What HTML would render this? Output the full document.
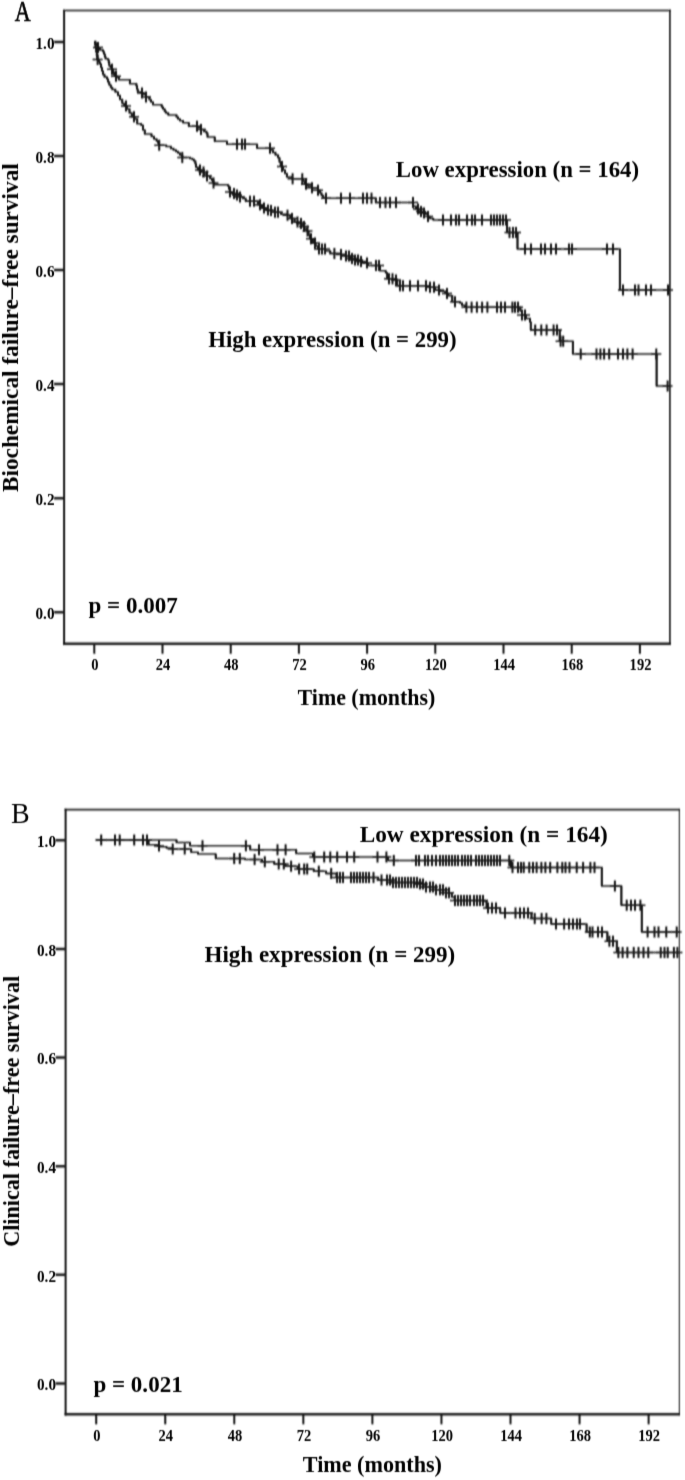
<!DOCTYPE html>
<html><head><meta charset="utf-8"><style>
html,body{margin:0;padding:0;background:#fff;}
body{width:685px;height:1480px;overflow:hidden;}
svg{display:block;filter:grayscale(1);}
text{font-family:"Liberation Serif",serif;fill:#000;}
.tk{font-size:16.5px;font-weight:bold;}
.pl{font-size:28px;font-weight:normal;}
.an{font-size:22.6px;font-weight:bold;}
.ax{font-size:21.9px;font-weight:bold;}
</style></head><body>
<svg width="685" height="1480" viewBox="0 0 685 1480">
<defs><filter id="bl" x="0" y="0" width="685" height="1480" filterUnits="userSpaceOnUse"><feConvolveMatrix order="3 5" kernelMatrix="0.0063 0.0251 0.0063 0.0399 0.1601 0.0399 0.0740 0.2968 0.0740 0.0399 0.1601 0.0399 0.0063 0.0251 0.0063" divisor="1" edgeMode="none"/></filter>
<filter id="bt" x="0" y="0" width="685" height="1480" filterUnits="userSpaceOnUse"><feConvolveMatrix order="3 3" kernelMatrix="0.0120 0.1423 0.0120 0.0483 0.5706 0.0483 0.0120 0.1423 0.0120" divisor="1" edgeMode="none"/></filter></defs>
<g filter="url(#bl)">
<path d="M63.1 10.5H670.7" stroke="#141414" stroke-width="1.5" fill="none"/>
<path d="M63.1 643.8H670.7" stroke="#141414" stroke-width="2.5" fill="none"/>
<path d="M64.1 9.75V645.05" stroke="#141414" stroke-width="2.0" fill="none"/>
<path d="M669.9 9.75V645.05" stroke="#141414" stroke-width="1.6" fill="none"/>
<path d="M54.1 612.2H64.1M54.1 498.16H64.1M54.1 384.12H64.1M54.1 270.08H64.1M54.1 156.04H64.1M54.1 42H64.1" stroke="#141414" stroke-width="2.5" fill="none"/>
<path d="M94.3 643.8V653.8M162.5 643.8V653.8M230.7 643.8V653.8M298.9 643.8V653.8M367.1 643.8V653.8M435.3 643.8V653.8M503.5 643.8V653.8M571.7 643.8V653.8M639.9 643.8V653.8" stroke="#141414" stroke-width="2.0" fill="none"/>
<path d="M64.6 809.7H679.8" stroke="#141414" stroke-width="1.8" fill="none"/>
<path d="M64.6 1414.2H679.8" stroke="#141414" stroke-width="2.6" fill="none"/>
<path d="M65.6 808.8V1415.5" stroke="#141414" stroke-width="2.0" fill="none"/>
<path d="M679.3 808.8V1415.5" stroke="#141414" stroke-width="1.0" fill="none"/>
<path d="M55.6 1383.5H65.6M55.6 1274.86H65.6M55.6 1166.22H65.6M55.6 1057.58H65.6M55.6 948.94H65.6M55.6 840.3H65.6" stroke="#141414" stroke-width="2.5" fill="none"/>
<path d="M96.2 1414.2V1424.2M165.25 1414.2V1424.2M234.3 1414.2V1424.2M303.35 1414.2V1424.2M372.4 1414.2V1424.2M441.45 1414.2V1424.2M510.5 1414.2V1424.2M579.55 1414.2V1424.2M648.6 1414.2V1424.2" stroke="#141414" stroke-width="2.0" fill="none"/>
<path d="M94.4 41.5H95.5V43.5H96.5V45.5H98V47.5H99.6V50H103.1V51.8H104V54H104.8V56.5H105.5V58.8H108V59.8H108.7V62.5H109.3V65.8H110.6V67.5H111.9V69.3H113V72H114V74.5H115V76.3H117V77.5H118.9V79.8H129.9V83.7H136.4V86H137V89H137.7V92H141V93H143.3V94.6H146V97H149.4V99.7H151V102H153V104.8H161.7V107H163V109H164.7V111.5H166V113H168.3V115H176.5V117H178V119H180V120.7H183.1V122.7H188.8V126.3H197.4V127.8H201V129.5H204V131.5H206.5V133.3H207.5V137H214.7V141.3H227V144.2H257.1V148.2H270.2V150H272.9V152.6H275.5V155H278.1V157.8H279.5V162H280.7V166.6H283V170H285V173.5H286.9V177.1H292.1V178.8H303V181H304.9V184.2H308V186H311.9V187.7H318V190.3H320V193H321.5V195.5H323.3V198.2H375.8V202.6H413.1V206.3H416V209H418.4V211.5H422V213H425.4V214.2H428V216.5H429.8V218.5H433.3V220H507V232.4H517.5V249H619.9V290H669" stroke="#141414" stroke-width="1.5" fill="none" stroke-linejoin="miter"/>
<path d="M95.5 41.5V43.5M96.5 43.5V45.5M98 45.5V47.5M99.6 47.5V50M103.1 50V51.8M104 51.8V54M104.8 54V56.5M105.5 56.5V58.8M108 58.8V59.8M108.7 59.8V62.5M109.3 62.5V65.8M110.6 65.8V67.5M111.9 67.5V69.3M113 69.3V72M114 72V74.5M115 74.5V76.3M117 76.3V77.5M118.9 77.5V79.8M129.9 79.8V83.7M136.4 83.7V86M137 86V89M137.7 89V92M141 92V93M143.3 93V94.6M146 94.6V97M149.4 97V99.7M151 99.7V102M153 102V104.8M161.7 104.8V107M163 107V109M164.7 109V111.5M166 111.5V113M168.3 113V115M176.5 115V117M178 117V119M180 119V120.7M183.1 120.7V122.7M188.8 122.7V126.3M197.4 126.3V127.8M201 127.8V129.5M204 129.5V131.5M206.5 131.5V133.3M207.5 133.3V137M214.7 137V141.3M227 141.3V144.2M257.1 144.2V148.2M270.2 148.2V150M272.9 150V152.6M275.5 152.6V155M278.1 155V157.8M279.5 157.8V162M280.7 162V166.6M283 166.6V170M285 170V173.5M286.9 173.5V177.1M292.1 177.1V178.8M303 178.8V181M304.9 181V184.2M308 184.2V186M311.9 186V187.7M318 187.7V190.3M320 190.3V193M321.5 193V195.5M323.3 195.5V198.2M375.8 198.2V202.6M413.1 202.6V206.3M416 206.3V209M418.4 209V211.5M422 211.5V213M425.4 213V214.2M428 214.2V216.5M429.8 216.5V218.5M433.3 218.5V220M507 220V232.4M517.5 232.4V249M619.9 249V290" stroke="#141414" stroke-width="2.0" fill="none"/>
<path d="M93 47.5h10M107 69.3h10M111 76.3h10M137 93h10M141 97h10M192 126.3h10M196 129.5h10M232 144.2h10M237 144.2h10M240 144.2h10M265 148.2h10M277 166.6h10M287.6 178.8h10M297.3 178.8h10M301 184.2h10M307 187.7h10M313 190.3h10M321 198.2h10M336 198.2h10M345 198.2h10M358 198.2h10M362 198.2h10M366.5 198.2h10M375 202.6h10M380.5 202.6h10M385 202.6h10M391 202.6h10M408 202.6h10M413 209h10M416 211.5h10M419 213h10M423 216.5h10M438 220h10M446 220h10M451 220h10M454 220h10M462 220h10M467 220h10M470 220h10M477 220h10M486 220h10M489 220h10M492 220h10M495 220h10M498 220h10M501 220h10M504.5 232.4h10M508 232.4h10M511 232.4h10M520 249h10M526 249h10M536 249h10M540 249h10M546 249h10M551 249h10M564 249h10M567 249h10M602 249h10M608 249h10M618 290h10M630 290h10M633.5 290h10M641 290h10M646 290h10M663 290h10" stroke="#141414" stroke-width="1.5" fill="none"/>
<path d="M98 42v11M112 63.8v11M116 70.8v11M142 87.5v11M146 91.5v11M197 120.8v11M201 124v11M237 138.7v11M242 138.7v11M245 138.7v11M270 142.7v11M282 161.1v11M292.6 173.3v11M302.3 173.3v11M306 178.7v11M312 182.2v11M318 184.8v11M326 192.7v11M341 192.7v11M350 192.7v11M363 192.7v11M367 192.7v11M371.5 192.7v11M380 197.1v11M385.5 197.1v11M390 197.1v11M396 197.1v11M413 197.1v11M418 203.5v11M421 206v11M424 207.5v11M428 211v11M443 214.5v11M451 214.5v11M456 214.5v11M459 214.5v11M467 214.5v11M472 214.5v11M475 214.5v11M482 214.5v11M491 214.5v11M494 214.5v11M497 214.5v11M500 214.5v11M503 214.5v11M506 214.5v11M509.5 226.9v11M513 226.9v11M516 226.9v11M525 243.5v11M531 243.5v11M541 243.5v11M545 243.5v11M551 243.5v11M556 243.5v11M569 243.5v11M572 243.5v11M607 243.5v11M613 243.5v11M623 284.5v11M635 284.5v11M638.5 284.5v11M646 284.5v11M651 284.5v11M668 284.5v11" stroke="#141414" stroke-width="2.0" fill="none"/>
<path d="M94.4 41.7H95V44.5H95.6V48H96.2V52H96.8V56H97.4V59.5H99V62H100V64H101V67.5H102V71H103V74.5H104.5V77H107V79H108V82H109.3V85H110.8V87.5H112.3V89.4H115.4V92H118V95.6H120V99.5H122.3V103.6H124.5V106H127V109H129.5V113H131.8V116.8H134.5V119H137.2V123.7H141.2V125.3H143V130H144.8V134H151.5V136.5H154V139H156.6V141.1H158V143H159.1V145.2H166.3V146.5H170.9V148.5H173.5V150H176V151.5H178V153H180V155H182.3V157.6H190V158.6H192.4V159.5H194V161H195.4V164H196V167.2H198V170H201V172H204V174H207V176H210V178.5H212V180.5H213.4V183H214.5V184.7H228V186H229V189H229.8V192H233V193.5H236V195H240V197H243V198.6H245.7V201.3H257.9V204.8H262V208H266V210H270V210.5H275V212.2H281V214.3H287.4V215.3H290.4V218.4H294.5V222H298V223.5H301.7V226.6H304.5V229H306.8V231H308.5V235H309.9V238.8H312.9V242.9H315.5V246H318V249H325.2V251.1H330.3V253.5H340.8V254.5H345.3V256H350V258.5H355V260H359.6V261.5H362.7V263H367.8V265.5H380V270.7H385.7V272.7H387.2V278.8H394.5V280H397.2V285.7H430V287.3H435V290H440V291.3H445.2V293.6H448.2V295.7H452.3V301.8H460V303H462V305.2H465V307.2H520.3V311H522V315H526V318.5H530V322H530.8V330H559.7V341.3H572.9V353.9H656.6V386.1H669" stroke="#141414" stroke-width="1.5" fill="none" stroke-linejoin="miter"/>
<path d="M95 41.7V44.5M95.6 44.5V48M96.2 48V52M96.8 52V56M97.4 56V59.5M99 59.5V62M100 62V64M101 64V67.5M102 67.5V71M103 71V74.5M104.5 74.5V77M107 77V79M108 79V82M109.3 82V85M110.8 85V87.5M112.3 87.5V89.4M115.4 89.4V92M118 92V95.6M120 95.6V99.5M122.3 99.5V103.6M124.5 103.6V106M127 106V109M129.5 109V113M131.8 113V116.8M134.5 116.8V119M137.2 119V123.7M141.2 123.7V125.3M143 125.3V130M144.8 130V134M151.5 134V136.5M154 136.5V139M156.6 139V141.1M158 141.1V143M159.1 143V145.2M166.3 145.2V146.5M170.9 146.5V148.5M173.5 148.5V150M176 150V151.5M178 151.5V153M180 153V155M182.3 155V157.6M190 157.6V158.6M192.4 158.6V159.5M194 159.5V161M195.4 161V164M196 164V167.2M198 167.2V170M201 170V172M204 172V174M207 174V176M210 176V178.5M212 178.5V180.5M213.4 180.5V183M214.5 183V184.7M228 184.7V186M229 186V189M229.8 189V192M233 192V193.5M236 193.5V195M240 195V197M243 197V198.6M245.7 198.6V201.3M257.9 201.3V204.8M262 204.8V208M266 208V210M270 210V210.5M275 210.5V212.2M281 212.2V214.3M287.4 214.3V215.3M290.4 215.3V218.4M294.5 218.4V222M298 222V223.5M301.7 223.5V226.6M304.5 226.6V229M306.8 229V231M308.5 231V235M309.9 235V238.8M312.9 238.8V242.9M315.5 242.9V246M318 246V249M325.2 249V251.1M330.3 251.1V253.5M340.8 253.5V254.5M345.3 254.5V256M350 256V258.5M355 258.5V260M359.6 260V261.5M362.7 261.5V263M367.8 263V265.5M380 265.5V270.7M385.7 270.7V272.7M387.2 272.7V278.8M394.5 278.8V280M397.2 280V285.7M430 285.7V287.3M435 287.3V290M440 290V291.3M445.2 291.3V293.6M448.2 293.6V295.7M452.3 295.7V301.8M460 301.8V303M462 303V305.2M465 305.2V307.2M520.3 307.2V311M522 311V315M526 315V318.5M530 318.5V322M530.8 322V330M559.7 330V341.3M572.9 341.3V353.9M656.6 353.9V386.1" stroke="#141414" stroke-width="2.0" fill="none"/>
<path d="M92.6 59.5h10M121 106h10M129 116.8h10M154.2 145.2h10M177.3 157.6h10M195 170h10M198.5 172h10M202 176h10M208.5 183h10M225 192h10M229 193.5h10M232 195h10M235 197h10M245 201.3h10M249 201.3h10M255 204.8h10M259 208h10M263 210h10M266 210.5h10M270 212.2h10M273 212.2h10M282.5 215.3h10M287 218.4h10M292.5 222h10M296 223.5h10M299 226.6h10M302.5 231h10M306 238.8h10M310 242.9h10M314 249h10M317 249h10M320 249h10M329.4 253.5h10M336 254.5h10M341 256h10M344 256h10M347 258.5h10M350 260h10M353 260h10M356 261.5h10M362 263h10M371 265.5h10M374 265.5h10M384 278.8h10M387.5 278.8h10M391 280h10M395 285.7h10M398 285.7h10M405 285.7h10M413 285.7h10M421 285.7h10M425 287.3h10M429 287.3h10M434 290h10M442 293.6h10M450 301.8h10M461.4 307.2h10M466.6 307.2h10M471.9 307.2h10M477.1 307.2h10M482.4 307.2h10M492 307.2h10M496 307.2h10M500 307.2h10M507.4 307.2h10M510 307.2h10M513 307.2h10M517 315h10M520 315h10M530.2 330h10M536.3 330h10M541.6 330h10M548.6 330h10M552 330h10M555.6 341.3h10M558.2 341.3h10M575.7 353.9h10M591.5 353.9h10M595.4 353.9h10M599.1 353.9h10M604.2 353.9h10M613 353.9h10M618 353.9h10M622.4 353.9h10M627.6 353.9h10M651.3 353.9h10M662.6 386.1h10" stroke="#141414" stroke-width="1.5" fill="none"/>
<path d="M97.6 54v11M126 100.5v11M134 111.3v11M159.2 139.7v11M182.3 152.1v11M200 164.5v11M203.5 166.5v11M207 170.5v11M213.5 177.5v11M230 186.5v11M234 188v11M237 189.5v11M240 191.5v11M250 195.8v11M254 195.8v11M260 199.3v11M264 202.5v11M268 204.5v11M271 205v11M275 206.7v11M278 206.7v11M287.5 209.8v11M292 212.9v11M297.5 216.5v11M301 218v11M304 221.1v11M307.5 225.5v11M311 233.3v11M315 237.4v11M319 243.5v11M322 243.5v11M325 243.5v11M334.4 248v11M341 249v11M346 250.5v11M349 250.5v11M352 253v11M355 254.5v11M358 254.5v11M361 256v11M367 257.5v11M376 260v11M379 260v11M389 273.3v11M392.5 273.3v11M396 274.5v11M400 280.2v11M403 280.2v11M410 280.2v11M418 280.2v11M426 280.2v11M430 281.8v11M434 281.8v11M439 284.5v11M447 288.1v11M455 296.3v11M466.4 301.7v11M471.6 301.7v11M476.9 301.7v11M482.1 301.7v11M487.4 301.7v11M497 301.7v11M501 301.7v11M505 301.7v11M512.4 301.7v11M515 301.7v11M518 301.7v11M522 309.5v11M525 309.5v11M535.2 324.5v11M541.3 324.5v11M546.6 324.5v11M553.6 324.5v11M557 324.5v11M560.6 335.8v11M563.2 335.8v11M580.7 348.4v11M596.5 348.4v11M600.4 348.4v11M604.1 348.4v11M609.2 348.4v11M618 348.4v11M623 348.4v11M627.4 348.4v11M632.6 348.4v11M656.3 348.4v11M667.6 380.6v11" stroke="#141414" stroke-width="2.0" fill="none"/>
<path d="M95.6 839.9H176.5V842.5H190V845.8H250.2V849.7H296.2V853.6H313V857H388V860.4H511V867.5H601.8V886H621.4V905.3H641.8V931.9H679" stroke="#141414" stroke-width="1.5" fill="none" stroke-linejoin="miter"/>
<path d="M176.5 839.9V842.5M190 842.5V845.8M250.2 845.8V849.7M296.2 849.7V853.6M313 853.6V857M388 857V860.4M511 860.4V867.5M601.8 867.5V886M621.4 886V905.3M641.8 905.3V931.9" stroke="#141414" stroke-width="2.0" fill="none"/>
<path d="M197.5 845.8h10M240.9 845.8h10M254 849.7h10M272.5 849.7h10M280.6 849.7h10M309.3 857h10M319.2 857h10M325.3 857h10M332.2 857h10M342 857h10M349.2 857h10M372.5 857h10M381.4 857h10M388.8 860.4h10M411 860.4h10M414 860.4h10M420 860.4h10M423 860.4h10M427 860.4h10M431 860.4h10M435 860.4h10M438 860.4h10M441 860.4h10M444 860.4h10M447 860.4h10M450 860.4h10M453 860.4h10M457 860.4h10M460 860.4h10M463 860.4h10M466 860.4h10M471 860.4h10M474 860.4h10M477 860.4h10M480 860.4h10M483 860.4h10M486 860.4h10M489 860.4h10M492 860.4h10M495 860.4h10M504.3 860.4h10M507.5 867.5h10M513 867.5h10M516 867.5h10M518.7 867.5h10M524.3 867.5h10M528 867.5h10M531.6 867.5h10M536.4 867.5h10M540.4 867.5h10M545.2 867.5h10M552.4 867.5h10M557.3 867.5h10M560.5 867.5h10M564.5 867.5h10M571.7 867.5h10M578.1 867.5h10M585.4 867.5h10M589.5 867.5h10M609.9 886h10M621.7 905.3h10M626 905.3h10M630 905.3h10M635.4 905.3h10M642.6 931.9h10M649.5 931.9h10M653.5 931.9h10M661.3 931.9h10M671.7 931.9h10" stroke="#141414" stroke-width="1.5" fill="none"/>
<path d="M202.5 840.3v11M245.9 840.3v11M259 844.2v11M277.5 844.2v11M285.6 844.2v11M314.3 851.5v11M324.2 851.5v11M330.3 851.5v11M337.2 851.5v11M347 851.5v11M354.2 851.5v11M377.5 851.5v11M386.4 851.5v11M393.8 854.9v11M416 854.9v11M419 854.9v11M425 854.9v11M428 854.9v11M432 854.9v11M436 854.9v11M440 854.9v11M443 854.9v11M446 854.9v11M449 854.9v11M452 854.9v11M455 854.9v11M458 854.9v11M462 854.9v11M465 854.9v11M468 854.9v11M471 854.9v11M476 854.9v11M479 854.9v11M482 854.9v11M485 854.9v11M488 854.9v11M491 854.9v11M494 854.9v11M497 854.9v11M500 854.9v11M509.3 854.9v11M512.5 862v11M518 862v11M521 862v11M523.7 862v11M529.3 862v11M533 862v11M536.6 862v11M541.4 862v11M545.4 862v11M550.2 862v11M557.4 862v11M562.3 862v11M565.5 862v11M569.5 862v11M576.7 862v11M583.1 862v11M590.4 862v11M594.5 862v11M614.9 880.5v11M626.7 899.8v11M631 899.8v11M635 899.8v11M640.4 899.8v11M647.6 926.4v11M654.5 926.4v11M658.5 926.4v11M666.3 926.4v11M676.7 926.4v11" stroke="#141414" stroke-width="2.0" fill="none"/>
<path d="M95.6 839.9H148.5V844.8H157.5V846H160.2V846.8H166.6V848H171.3V849H191.2V852.3H198V854H215.7V858.6H245V859.6H262V861.8H274.3V864H285.3V866.2H297.7V869H313.7V871.3H326.1V873.5H336.6V877.6H378.3V880H390.4V882.5H419.6V884H425.5V887H435.7V889.8H445.9V892.7H451.8V897.1H454.7V900.5H485V901.5H486.6V908.1H500.2V912.9H531.5V918.5H551.2V923.9H586.6V931.9H607.4V941.2H616.8V952.4H679" stroke="#141414" stroke-width="1.5" fill="none" stroke-linejoin="miter"/>
<path d="M148.5 839.9V844.8M157.5 844.8V846M160.2 846V846.8M166.6 846.8V848M171.3 848V849M191.2 849V852.3M198 852.3V854M215.7 854V858.6M245 858.6V859.6M262 859.6V861.8M274.3 861.8V864M285.3 864V866.2M297.7 866.2V869M313.7 869V871.3M326.1 871.3V873.5M336.6 873.5V877.6M378.3 877.6V880M390.4 880V882.5M419.6 882.5V884M425.5 884V887M435.7 887V889.8M445.9 889.8V892.7M451.8 892.7V897.1M454.7 897.1V900.5M485 900.5V901.5M486.6 901.5V908.1M500.2 908.1V912.9M531.5 912.9V918.5M551.2 918.5V923.9M586.6 923.9V931.9M607.4 931.9V941.2M616.8 941.2V952.4" stroke="#141414" stroke-width="2.0" fill="none"/>
<path d="M96.2 839.9h10M110 839.9h10M114.7 839.9h10M129.2 839.9h10M138 839.9h10M142 839.9h10M154 846h10M167.7 849h10M179.7 849h10M229.2 858.6h10M234.8 858.6h10M249.6 859.6h10M259.8 861.8h10M273.7 864h10M278.8 864h10M286.1 866.2h10M294.1 869h10M299.2 869h10M302.2 869h10M313.8 871.3h10M326.2 873.5h10M332.1 877.6h10M335 877.6h10M338 877.6h10M346 877.6h10M349 877.6h10M352 877.6h10M355 877.6h10M358 877.6h10M361 877.6h10M364 877.6h10M368.5 877.6h10M376.5 880h10M382 880h10M385 880h10M388 882.5h10M391 882.5h10M394 882.5h10M397 882.5h10M400 882.5h10M403 882.5h10M406 882.5h10M409 882.5h10M412 882.5h10M415 884h10M418 884h10M421 887h10M425 887h10M428 887h10M431 889.8h10M435 889.8h10M438 889.8h10M441 892.7h10M444 892.7h10M450 900.5h10M453 900.5h10M456 900.5h10M459 900.5h10M462 900.5h10M465 900.5h10M469 900.5h10M472 900.5h10M475 900.5h10M478 900.5h10M483 908.1h10M487 908.1h10M491 908.1h10M500 912.9h10M510.5 912.9h10M515 912.9h10M519 912.9h10M523 912.9h10M529.7 918.5h10M536.6 918.5h10M541.4 918.5h10M551 923.9h10M559.1 923.9h10M564 923.9h10M568 923.9h10M572 923.9h10M575 923.9h10M584.8 931.9h10M587.5 931.9h10M593 931.9h10M597 931.9h10M604.4 941.2h10M608 941.2h10M613.4 952.4h10M617.6 952.4h10M622.4 952.4h10M628.7 952.4h10M633.5 952.4h10M638.5 952.4h10M643.3 952.4h10M655.7 952.4h10M659.5 952.4h10M662.7 952.4h10M668.9 952.4h10M672.4 952.4h10" stroke="#141414" stroke-width="1.5" fill="none"/>
<path d="M101.2 834.4v11M115 834.4v11M119.7 834.4v11M134.2 834.4v11M143 834.4v11M147 834.4v11M159 840.5v11M172.7 843.5v11M184.7 843.5v11M234.2 853.1v11M239.8 853.1v11M254.6 854.1v11M264.8 856.3v11M278.7 858.5v11M283.8 858.5v11M291.1 860.7v11M299.1 863.5v11M304.2 863.5v11M307.2 863.5v11M318.8 865.8v11M331.2 868v11M337.1 872.1v11M340 872.1v11M343 872.1v11M351 872.1v11M354 872.1v11M357 872.1v11M360 872.1v11M363 872.1v11M366 872.1v11M369 872.1v11M373.5 872.1v11M381.5 874.5v11M387 874.5v11M390 874.5v11M393 877v11M396 877v11M399 877v11M402 877v11M405 877v11M408 877v11M411 877v11M414 877v11M417 877v11M420 878.5v11M423 878.5v11M426 881.5v11M430 881.5v11M433 881.5v11M436 884.3v11M440 884.3v11M443 884.3v11M446 887.2v11M449 887.2v11M455 895v11M458 895v11M461 895v11M464 895v11M467 895v11M470 895v11M474 895v11M477 895v11M480 895v11M483 895v11M488 902.6v11M492 902.6v11M496 902.6v11M505 907.4v11M515.5 907.4v11M520 907.4v11M524 907.4v11M528 907.4v11M534.7 913v11M541.6 913v11M546.4 913v11M556 918.4v11M564.1 918.4v11M569 918.4v11M573 918.4v11M577 918.4v11M580 918.4v11M589.8 926.4v11M592.5 926.4v11M598 926.4v11M602 926.4v11M609.4 935.7v11M613 935.7v11M618.4 946.9v11M622.6 946.9v11M627.4 946.9v11M633.7 946.9v11M638.5 946.9v11M643.5 946.9v11M648.3 946.9v11M660.7 946.9v11M664.5 946.9v11M667.7 946.9v11M673.9 946.9v11M677.4 946.9v11" stroke="#141414" stroke-width="2.0" fill="none"/>
</g>
<g filter="url(#bt)">
<text class="tk" transform="translate(54.5 619.1) scale(0.92 1)" text-anchor="end">0.0</text>
<text class="tk" transform="translate(54.5 505.06) scale(0.92 1)" text-anchor="end">0.2</text>
<text class="tk" transform="translate(54.5 391.02) scale(0.92 1)" text-anchor="end">0.4</text>
<text class="tk" transform="translate(54.5 276.98) scale(0.92 1)" text-anchor="end">0.6</text>
<text class="tk" transform="translate(54.5 162.94) scale(0.92 1)" text-anchor="end">0.8</text>
<text class="tk" transform="translate(54.5 48.9) scale(0.92 1)" text-anchor="end">1.0</text>
<text class="tk" transform="translate(94.9 670.1) scale(0.88 1)" text-anchor="middle">0</text>
<text class="tk" transform="translate(163.1 670.1) scale(0.88 1)" text-anchor="middle">24</text>
<text class="tk" transform="translate(231.3 670.1) scale(0.88 1)" text-anchor="middle">48</text>
<text class="tk" transform="translate(299.5 670.1) scale(0.88 1)" text-anchor="middle">72</text>
<text class="tk" transform="translate(367.7 670.1) scale(0.88 1)" text-anchor="middle">96</text>
<text class="tk" transform="translate(435.9 670.1) scale(0.88 1)" text-anchor="middle">120</text>
<text class="tk" transform="translate(504.1 670.1) scale(0.88 1)" text-anchor="middle">144</text>
<text class="tk" transform="translate(572.3 670.1) scale(0.88 1)" text-anchor="middle">168</text>
<text class="tk" transform="translate(640.5 670.1) scale(0.88 1)" text-anchor="middle">192</text>
<text class="pl" style="font-size:28.6px;font-weight:normal;stroke:#000;stroke-width:0.7" transform="translate(14.8 20.8) scale(0.77 1)">A</text>
<text class="an" transform="translate(18 492.03) rotate(-90) scale(1.03 1)">Biochemical failure–free survival</text>
<text class="an" transform="translate(395.79 176.9) scale(1.01 1)">Low expression (n = 164)</text>
<text class="an" transform="translate(208.19 346.8) scale(1.01 1)">High expression (n = 299)</text>
<text class="an" transform="translate(88.5 613.1) scale(1.02 1)">p = 0.007</text>
<text class="an" transform="translate(297.61 704.6) scale(0.97 1)">Time (months)</text>
<text class="tk" transform="translate(56 1390.4) scale(0.92 1)" text-anchor="end">0.0</text>
<text class="tk" transform="translate(56 1281.76) scale(0.92 1)" text-anchor="end">0.2</text>
<text class="tk" transform="translate(56 1173.12) scale(0.92 1)" text-anchor="end">0.4</text>
<text class="tk" transform="translate(56 1064.48) scale(0.92 1)" text-anchor="end">0.6</text>
<text class="tk" transform="translate(56 955.84) scale(0.92 1)" text-anchor="end">0.8</text>
<text class="tk" transform="translate(56 847.2) scale(0.92 1)" text-anchor="end">1.0</text>
<text class="tk" transform="translate(96.8 1440.5) scale(0.88 1)" text-anchor="middle">0</text>
<text class="tk" transform="translate(165.85 1440.5) scale(0.88 1)" text-anchor="middle">24</text>
<text class="tk" transform="translate(234.9 1440.5) scale(0.88 1)" text-anchor="middle">48</text>
<text class="tk" transform="translate(303.95 1440.5) scale(0.88 1)" text-anchor="middle">72</text>
<text class="tk" transform="translate(373 1440.5) scale(0.88 1)" text-anchor="middle">96</text>
<text class="tk" transform="translate(442.05 1440.5) scale(0.88 1)" text-anchor="middle">120</text>
<text class="tk" transform="translate(511.1 1440.5) scale(0.88 1)" text-anchor="middle">144</text>
<text class="tk" transform="translate(580.15 1440.5) scale(0.88 1)" text-anchor="middle">168</text>
<text class="tk" transform="translate(649.2 1440.5) scale(0.88 1)" text-anchor="middle">192</text>
<text class="pl" style="font-size:29.5px;font-weight:normal" transform="translate(10.9 822.8) scale(0.95 1)">B</text>
<text class="an" transform="translate(18.6 1246.78) rotate(-90) scale(0.98 1)">Clinical failure–free survival</text>
<text class="an" transform="translate(359.67 841.5) scale(1.03 1)">Low expression (n = 164)</text>
<text class="an" transform="translate(204.48 961.5) scale(1.02 1)">High expression (n = 299)</text>
<text class="an" transform="translate(93.39 1391.6) scale(1.02 1)">p = 0.021</text>
<text class="an" transform="translate(302.81 1472.3) scale(0.98 1)">Time (months)</text>
</g>
</svg>
</body></html>
